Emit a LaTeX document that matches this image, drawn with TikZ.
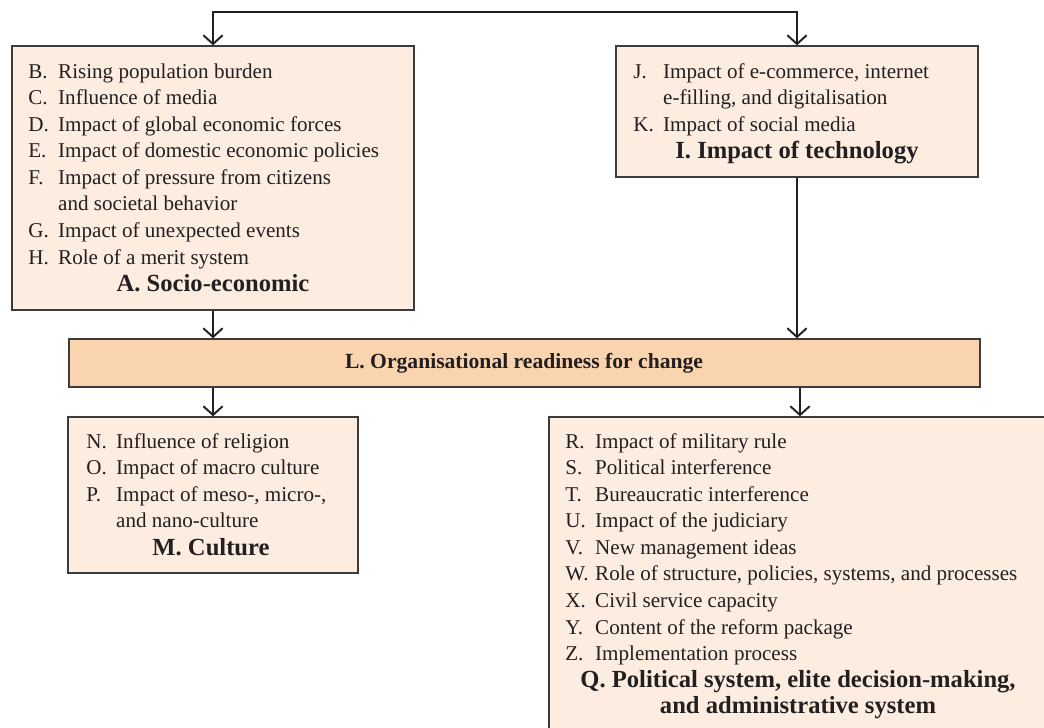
\documentclass[tikz,border=0pt]{standalone}
\usepackage{fontspec}
\setmainfont{Liberation Serif}
\usetikzlibrary{arrows.meta,fit}
\definecolor{boxfill}{RGB}{253,237,224}
\definecolor{lfill}{RGB}{250,212,174}
\definecolor{ink}{RGB}{35,31,32}
\definecolor{edge}{RGB}{60,60,60}
\newcommand\li[2]{\makebox[17pt][l]{#1}#2}
\newcommand\lc[1]{\makebox[17pt][l]{}#1}
\begin{document}
\begin{tikzpicture}[x=0.02cm,y=-0.02cm,
 >={Straight Barb[length=5pt,width=11pt]},
 box/.style={draw=edge,line width=0.8pt,fill=boxfill,inner sep=0pt},
 lbox/.style={box,fill=lfill},
 list/.style={anchor=north west,inner sep=0pt,text=ink,font=\fontsize{12}{15.1}\selectfont},
 ttl/.style={inner sep=0pt,text=ink,font=\fontsize{14}{15.1}\selectfont\bfseries},
 conn/.style={draw=ink,line width=1.1pt}]
\clip (0,0) rectangle (1044,727);
\fill[white] (0,0) rectangle (1044,727);
% boxes
\node[box,fit={(12,46)(414,310)}] (A) {};
\node[box,fit={(616,46)(978,177)}] (I) {};
\node[lbox,fit={(69,339)(980,387)}] (L) {};
\node[box,fit={(68,417)(358,573)}] (M) {};
\node[box,fit={(549,417)(1051,745)}] (Q) {};
% lists
\node[list] (Alist) at (28,59.4) {\begin{tabular}{@{}l@{}}
\li{B.}{Rising population burden}\\
\li{C.}{Influence of media}\\
\li{D.}{Impact of global economic forces}\\
\li{E.}{Impact of domestic economic policies}\\
\li{F.}{Impact of pressure from citizens}\\
\lc{and societal behavior}\\
\li{G.}{Impact of unexpected events}\\
\li{H.}{Role of a merit system}
\end{tabular}};
\node[list] (Ilist) at (633,59.4) {\begin{tabular}{@{}l@{}}
\li{J.}{Impact of e-commerce, internet}\\
\lc{e-filling, and digitalisation}\\
\li{K.}{Impact of social media}
\end{tabular}};
\node[list] (Mlist) at (86,429.4) {\begin{tabular}{@{}l@{}}
\li{N.}{Influence of religion}\\
\li{O.}{Impact of macro culture}\\
\li{P.}{Impact of meso-, micro-,}\\
\lc{and nano-culture}
\end{tabular}};
\node[list] (Qlist) at (565,429.4) {\begin{tabular}{@{}l@{}}
\li{R.}{Impact of military rule}\\
\li{S.}{Political interference}\\
\li{T.}{Bureaucratic interference}\\
\li{U.}{Impact of the judiciary}\\
\li{V.}{New management ideas}\\
\li{W.}{Role of structure, policies, systems, and processes}\\
\li{X.}{Civil service capacity}\\
\li{Y.}{Content of the reform package}\\
\li{Z.}{Implementation process}
\end{tabular}};
% titles
\node[ttl,anchor=base] (Attl) at (213,291) {A. Socio-economic};
\node[ttl,anchor=base] (Ittl) at (797,158) {I. Impact of technology};
\node[ttl,anchor=base,font=\fontsize{12.3}{15.1}\selectfont\bfseries] (Lttl) at (524,368) {L. Organisational readiness for change};
\node[ttl,anchor=base] (Mttl) at (211,555) {M. Culture};
\node[ttl,anchor=north] (Qttl) at (798,668.4) {\begin{tabular}{@{}c@{}}Q. Political system, elite decision-making,\\ and administrative system\end{tabular}};
% connectors
\draw[conn,<->] (A.north) -- ++(0,-33) -| (I.north);
\draw[conn,->] (A.south) -- (A.south |- L.north);
\draw[conn,->] (I.south) -- (I.south |- L.north);
\draw[conn,->] (M.north |- L.south) -- (M.north);
\draw[conn,->] (Q.north |- L.south) -- (Q.north);
\end{tikzpicture}
\end{document}
